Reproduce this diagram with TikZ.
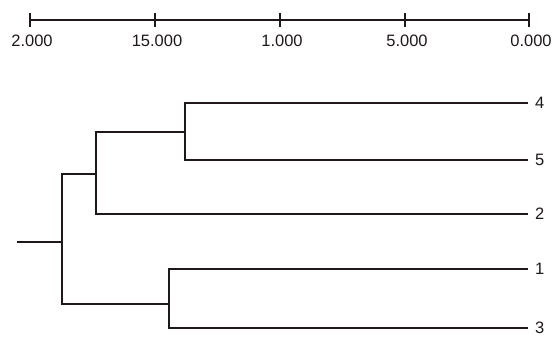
\documentclass[tikz,border=0pt]{standalone}
\usepackage{fontspec}
\setmainfont{Liberation Sans}
\usetikzlibrary{positioning}
\definecolor{ink}{RGB}{32,24,24}

\begin{document}
\begin{tikzpicture}[x=1pt, y=-1pt, font=\fontsize{16.5}{19}\selectfont,
  branch/.style={draw=ink, line width=1.9pt, line join=miter},
  leaf/.style={anchor=west, inner sep=0pt, inner xsep=7pt, text=ink}]
\useasboundingbox (0,0) rectangle (557,343);

% scale bar
\draw[branch] (30,20) -- (529,20);
\foreach \x/\t [count=\i] in {30/2.000, 155/15.000, 280/1.000, 405/5.000, 529/0.000}{
  \draw[branch] (\x,13) -- (\x,27);
  \node[anchor=base, inner sep=0pt, text=ink] (s\i) at (\x+2,46) {\t};
}

% leaves
\foreach \n/\y in {4/103, 5/160, 2/214, 1/269, 3/328}{
  \node[leaf] (l\n) at (528,\y) {\n};
}

% joins
\coordinate (n45) at (185,132);
\coordinate (n452) at (96,174);
\coordinate (n13) at (169,304);
\coordinate (root) at (62,242);
\coordinate (r0) at (17,242);

\draw[branch] (l4.west) -| (n45) |- (l5.west);
\draw[branch] (n45) -| (n452) |- (l2.west);
\draw[branch] (l1.west) -| (n13) |- (l3.west);
\draw[branch] (n452) -| (root) |- (n13);
\draw[branch] (r0) -- (root);
\end{tikzpicture}
\end{document}
